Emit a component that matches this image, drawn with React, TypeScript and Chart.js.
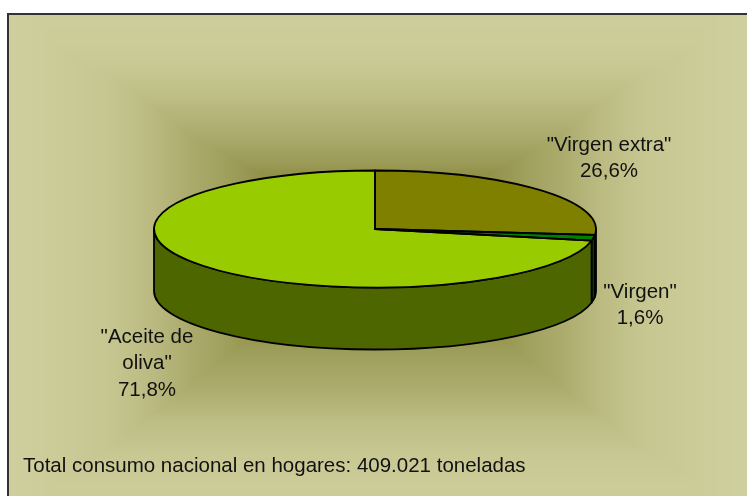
import React, { useEffect, useRef } from "react";
import { Chart, registerables } from "chart.js";

Chart.register(...registerables);

const categories = ['"Virgen extra"', '"Virgen"', '"Aceite de oliva"'];
const shares = [26.6, 1.6, 71.8];
const percentLabels = ["26,6%", "1,6%", "71,8%"];
const topColors = ["#808000", "#008000", "#99CC00"];
const wallColors = ["#404000", "#004000", "#4D6600"];
const footnote = "Total consumo nacional en hogares: 409.021 toneladas";

const W = 747;
const H = 496;
const RX = 221;
const RY = 58.5;
const DEPTH = 62;
const FONT = '20.5px "Liberation Sans", Arial, sans-serif';

const labelLayout = [
  { x: 609, y: 145, lines: [categories[0], percentLabels[0]] },
  { x: 640, y: 292, lines: [categories[1], percentLabels[1]] },
  { x: 147, y: 337, lines: ['"Aceite de', 'oliva"', percentLabels[2]] },
];

// background shading: [position, red/green level]
const shadeByY: number[][] = [[14, 205], [40, 204], [64, 201], [97, 189], [131, 173], [164, 154], [170, 148], [255, 100], [349, 157], [390, 173], [423, 190], [457, 200], [485, 204], [496, 204]];
const shadeByDx: number[][] = [[0, 100], [150, 160], [184, 170], [217, 184], [267, 198], [334, 205], [367, 207], [400, 207]];

function lookup(stops: number[][], p: number) {
  if (p <= stops[0][0]) return stops[0][1];
  for (let i = 1; i < stops.length; i++) {
    if (p <= stops[i][0]) {
      const [a, va] = stops[i - 1];
      const [b, vb] = stops[i];
      return va + ((vb - va) * (p - a)) / (b - a);
    }
  }
  return stops[stops.length - 1][1];
}

const backdrop = {
  id: "backdrop",
  beforeDraw(chart: any) {
    const { ctx } = chart;
    const x0 = 8, y0 = 14;
    const img = ctx.createImageData(W - x0, H - y0);
    for (let y = y0; y < H; y++) {
      const rv = lookup(shadeByY, y);
      for (let x = x0; x < W; x++) {
        const r = Math.max(rv, lookup(shadeByDx, Math.abs(x - 375)));
        const i = ((y - y0) * (W - x0) + (x - x0)) * 4;
        img.data[i] = r;
        img.data[i + 1] = r;
        img.data[i + 2] = Math.max(0, 153 - (204 - r) * 1.35);
        img.data[i + 3] = 255;
      }
    }
    ctx.putImageData(img, x0, y0);
    ctx.save();
    ctx.fillStyle = "#333333";
    ctx.fillRect(x0 - 1, y0 - 1, W - x0 + 1, 2);
    ctx.fillRect(x0 - 1, y0 - 1, 2, H - y0 + 1);
    ctx.restore();
  },
};

const pie3d = {
  id: "pie3d",
  beforeDatasetsDraw(chart: any) {
    const { ctx } = chart;
    const arcs = chart.getDatasetMeta(0).data;
    ctx.save();
    ctx.lineWidth = 1.8;
    ctx.strokeStyle = "#000";
    ctx.lineJoin = "round";
    arcs.forEach((a: any, i: number) => {
      const s = Math.max(a.startAngle, 0);
      const e = Math.min(a.endAngle, Math.PI);
      if (e <= s) return;
      ctx.beginPath();
      ctx.ellipse(a.x, a.y, RX, RY, 0, s, e);
      ctx.ellipse(a.x, a.y + DEPTH, RX, RY, 0, e, s, true);
      ctx.closePath();
      ctx.fillStyle = wallColors[i];
      ctx.fill();
      ctx.stroke();
    });
    ctx.restore();
    const a0 = arcs[0];
    ctx.save();
    ctx.translate(a0.x, a0.y);
    ctx.scale(1, RY / RX);
    ctx.translate(-a0.x, -a0.y);
  },
  afterDatasetsDraw(chart: any) {
    const { ctx } = chart;
    ctx.restore();
    const arcs = chart.getDatasetMeta(0).data;
    ctx.save();
    ctx.lineWidth = 1.8;
    ctx.strokeStyle = "#000";
    ctx.lineJoin = "round";
    arcs.forEach((a: any) => {
      ctx.beginPath();
      ctx.moveTo(a.x, a.y);
      ctx.ellipse(a.x, a.y, RX, RY, 0, a.startAngle, a.endAngle);
      ctx.closePath();
      ctx.stroke();
    });
    ctx.restore();
  },
  afterDraw(chart: any) {
    const { ctx } = chart;
    ctx.save();
    ctx.font = FONT;
    ctx.fillStyle = "#111";
    ctx.textBaseline = "middle";
    ctx.textAlign = "center";
    labelLayout.forEach((l) =>
      l.lines.forEach((t, i) => ctx.fillText(t, l.x, l.y + i * 26.5))
    );
    ctx.textAlign = "left";
    ctx.fillText(footnote, 23, 466);
    ctx.restore();
  },
};

export default function App() {
  const ref = useRef<HTMLCanvasElement>(null);
  useEffect(() => {
    const chart = new Chart(ref.current as HTMLCanvasElement, {
      type: "pie",
      data: {
        labels: categories,
        datasets: [
          {
            data: shares,
            backgroundColor: topColors,
            borderWidth: 0,
            clip: false,
            radius: RX,
          } as any,
        ],
      },
      options: {
        responsive: false,
        animation: false,
        events: [],
        layout: { padding: { left: 3, bottom: 38 } },
        plugins: { legend: { display: false }, tooltip: { enabled: false } },
      },
      plugins: [backdrop, pie3d],
    });
    return () => chart.destroy();
  }, []);
  return (
    <canvas
      ref={ref}
      width={W}
      height={H}
      style={{ position: "absolute", left: 0, top: 0, display: "block" }}
    />
  );
}
